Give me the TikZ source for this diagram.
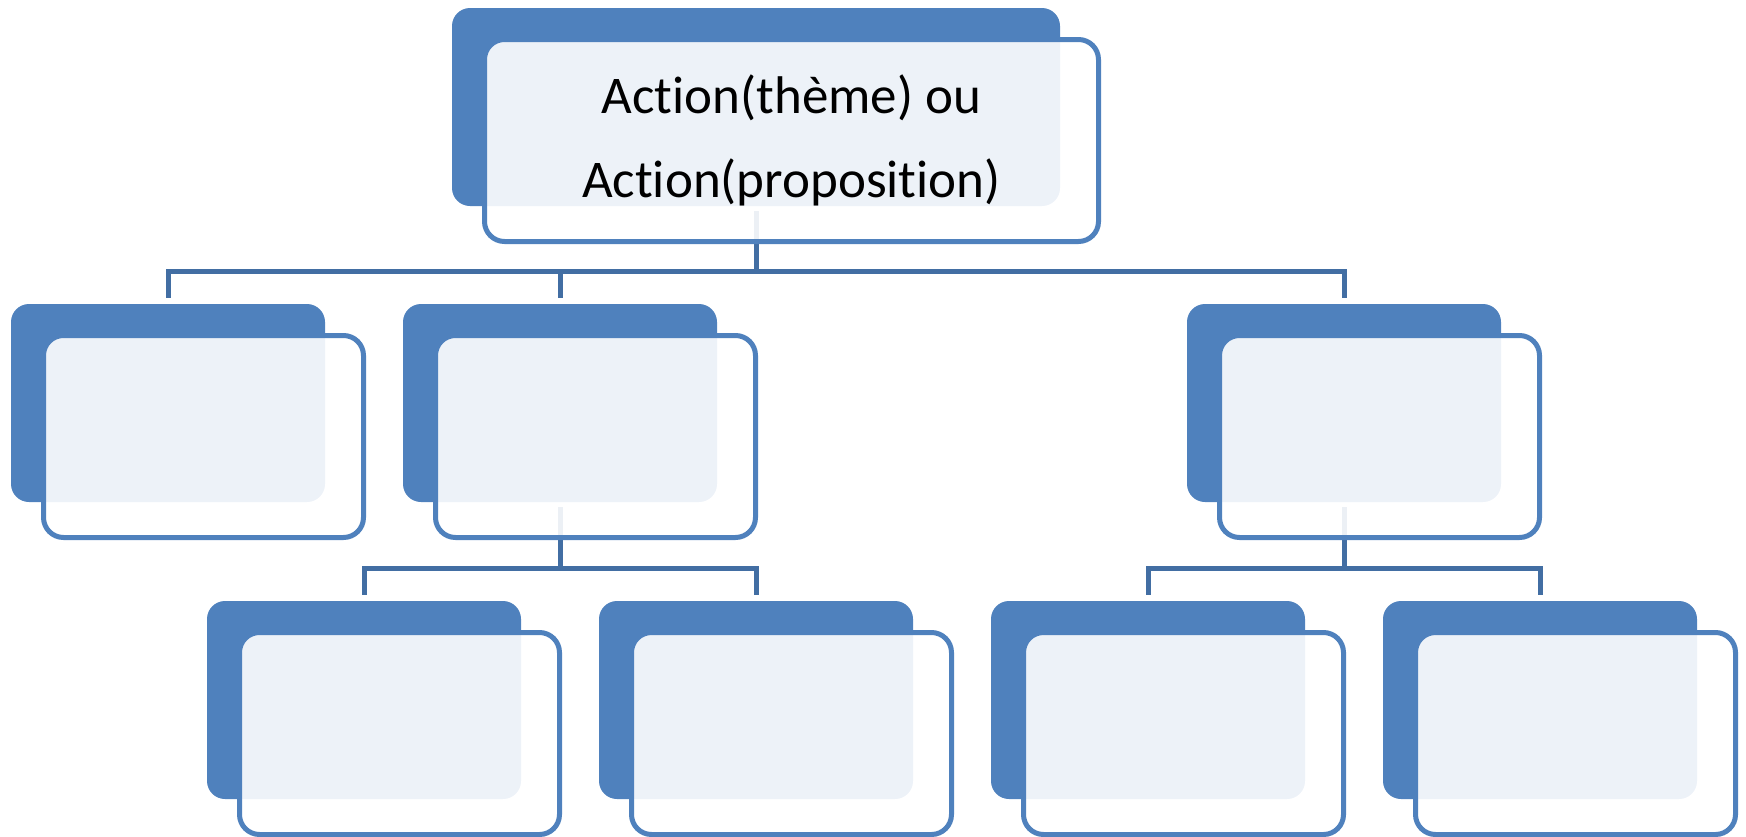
\documentclass[tikz,border=0pt]{standalone}
\usepackage{fontspec}
\setmainfont{Carlito}[Ligatures={NoCommon}]
\usepackage{tikz}
\definecolor{accentBlue}{RGB}{79,129,189}
\definecolor{linkBlue}{RGB}{66,110,163}
\tikzset{
    % Style for the dark box behind each card
    back box/.style={
        fill=accentBlue,
        rounded corners=18pt,
        minimum width=314pt,
        minimum height=198pt,
        inner sep=0pt
    },
    % Style for the outlined card in front
    front box/.style={
        draw=accentBlue,
        line width=5pt,
        fill=white,
        fill opacity=0.9,
        text opacity=1,
        rounded corners=20pt,
        minimum width=320pt,
        minimum height=202pt,
        inner sep=0pt,
        align=center,
        font=\fontsize{53}{83.5}\selectfont
    },
    link/.style={
        draw=linkBlue,
        line width=5pt
    }
}

\begin{document}
\begin{tikzpicture}[x=1pt,y=-1pt]

% Set the canvas size
\path[use as bounding box] (0,0) rectangle (1746,836);

% Draw the dark boxes
\node[back box, minimum width=608pt] (rootBack) at (756,107) {};
\node[back box] (aBack) at (168,403) {};
\node[back box] (bBack) at (560,403) {};
\node[back box] (cBack) at (1344,403) {};
\node[back box] (baBack) at (364,700) {};
\node[back box] (bbBack) at (756,700) {};
\node[back box] (caBack) at (1148,700) {};
\node[back box] (cbBack) at (1540,700) {};

% Draw all connectors
\draw[link] ([yshift=-5pt]rootBack.south) |- ([yshift=32pt]aBack.north) -- ([yshift=6pt]aBack.north);
\draw[link] ([yshift=-5pt]rootBack.south) |- ([yshift=32pt]bBack.north) -- ([yshift=6pt]bBack.north);
\draw[link] ([yshift=-5pt]rootBack.south) |- ([yshift=32pt]cBack.north) -- ([yshift=6pt]cBack.north);
\draw[link] ([yshift=-5pt]bBack.south) |- ([yshift=32pt]baBack.north) -- ([yshift=6pt]baBack.north);
\draw[link] ([yshift=-5pt]bBack.south) |- ([yshift=32pt]bbBack.north) -- ([yshift=6pt]bbBack.north);
\draw[link] ([yshift=-5pt]cBack.south) |- ([yshift=32pt]caBack.north) -- ([yshift=6pt]caBack.north);
\draw[link] ([yshift=-5pt]cBack.south) |- ([yshift=32pt]cbBack.north) -- ([yshift=6pt]cbBack.north);

% Draw the front cards
\node[front box, minimum width=614pt] (rootFront) at ([shift={(35.5pt,-33.5pt)}]rootBack.center) {Action(thème) ou\\Action(proposition)};
\node[front box] (aFront) at ([shift={(35.5pt,-33.5pt)}]aBack.center) {};
\node[front box] (bFront) at ([shift={(35.5pt,-33.5pt)}]bBack.center) {};
\node[front box] (cFront) at ([shift={(35.5pt,-33.5pt)}]cBack.center) {};
\node[front box] (baFront) at ([shift={(35.5pt,-33.5pt)}]baBack.center) {};
\node[front box] (bbFront) at ([shift={(35.5pt,-33.5pt)}]bbBack.center) {};
\node[front box] (caFront) at ([shift={(35.5pt,-33.5pt)}]caBack.center) {};
\node[front box] (cbFront) at ([shift={(35.5pt,-33.5pt)}]cbBack.center) {};

\end{tikzpicture}
\end{document}
